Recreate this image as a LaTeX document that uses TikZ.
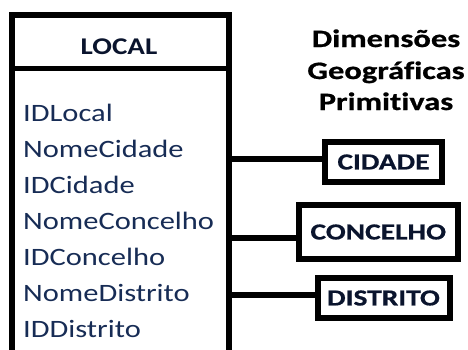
\documentclass[tikz,border=0pt]{standalone}
\usepackage{fontspec}
\setmainfont{Carlito}
\newfontfamily\attrfont[FakeStretch=1.22, Ligatures=NoCommon]{Carlito}
\newfontfamily\localfont[FakeStretch=1.21, Ligatures=NoCommon]{Carlito}
\newfontfamily\boxfont[FakeStretch=1.28, Ligatures=NoCommon, BoldFeatures={FakeBold=0.6}]{Carlito}
\newfontfamily\titlefont[FakeStretch=1.30, Ligatures=NoCommon, BoldFeatures={FakeBold=0.8}]{Carlito}
\definecolor{navy}{RGB}{23,44,85}
\definecolor{darknavy}{RGB}{10,20,45}
\tikzset{
  dimbox/.style={draw, line width=6pt, rectangle, inner sep=0pt, minimum height=40pt,
     font=\boxfont\bfseries\fontsize{23}{26}\selectfont, text=darknavy},
  attr/.style={anchor=base west, inner sep=0pt, font=\attrfont\fontsize{25}{28}\selectfont, text=navy},
  title/.style={anchor=base, inner sep=0pt, font=\titlefont\bfseries\fontsize{25}{28}\selectfont, text=black},
  conn/.style={line width=5.5pt},
}
\begin{document}
\begin{tikzpicture}[x=1pt,y=-1pt]
\useasboundingbox (0,0) rectangle (468,349);
\clip (0,0) rectangle (468,349);
% LOCAL table
\draw[line width=6pt, line join=miter] (12,360) -- (12,14.5) -- (229,14.5) -- (229,360);
\draw[line width=5pt] (12,68.5) -- (229,68.5);
\node[anchor=base, inner sep=0pt, font=\localfont\bfseries\fontsize{24}{27}\selectfont, text=darknavy] (local) at (119,54) {LOCAL};
\node[attr] (a1) at (23,121) {IDLocal};
\node[attr] (a2) at (23,157) {NomeCidade};
\node[attr] (a3) at (23,193) {IDCidade};
\node[attr] (a4) at (23,229) {NomeConcelho};
\node[attr] (a5) at (23,265) {IDConcelho};
\node[attr] (a6) at (23,301) {NomeDistrito};
\node[attr] (a7) at (23,337) {IDDistrito};
% title
\node[title] (t1) at (386,47) {Dimensões};
\node[title] (t2) at (386,79) {Geográficas};
\node[title] (t3) at (386,110) {Primitivas};
% dimension boxes
\node[dimbox, minimum width=117pt] (cidade) at (383.5,162) {CIDADE};
\node[dimbox, minimum width=159.5pt, minimum height=54pt] (concelho) at (378.25,232) {CONCELHO};
\node[dimbox, minimum width=132pt] (distrito) at (383.5,298) {DISTRITO};
% connectors
\coordinate (c1) at (229,159);
\coordinate (c2) at (229,238);
\coordinate (c3) at (229,295);
\draw[conn] (c1) -- (c1 -| cidade.west);
\draw[conn] (c2) -- (c2 -| concelho.west);
\draw[conn] (c3) -- (c3 -| distrito.west);
\end{tikzpicture}
\end{document}
